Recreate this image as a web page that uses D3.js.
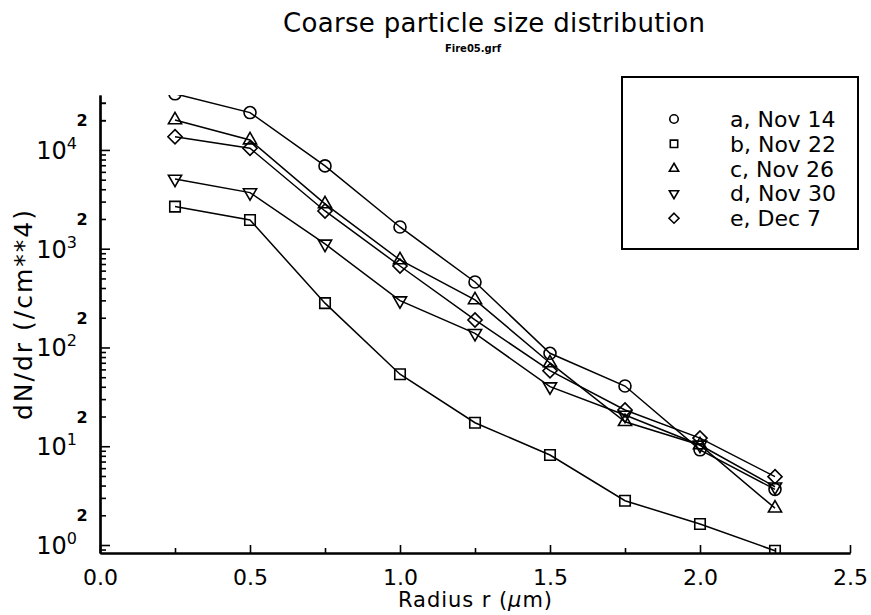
<!DOCTYPE html>
<html>
<head>
<meta charset="utf-8">
<script src="https://cdn.jsdelivr.net/npm/d3@7"></script>
<style>
  html, body { margin: 0; padding: 0; background: #fff; }
  svg { display: block; font-family: "DejaVu Sans", sans-serif; }
</style>
</head>
<body>
<svg id="chart" width="871" height="615"></svg>
<script>
// Particle radius (µm) at which each sample was measured
const radius = [0.25, 0.5, 0.75, 1.0, 1.25, 1.5, 1.75, 2.0, 2.25];

// dN/dr values (/cm**4) for each sampling date
const seriesA = [37000, 23900, 6890, 1660, 460, 87.3, 40.7, 9.2, 3.66];
const seriesB = [2670, 1955, 281, 53.6, 17.3, 8.15, 2.81, 1.63, 0.875];
const seriesC = [20100, 12600, 2840, 769, 303, 69.7, 17.7, 10.3, 2.36];
const seriesD = [5080, 3700, 1117, 298, 139, 40.1, 20.7, 10.3, 3.89];
const seriesE = [13600, 10400, 2410, 668, 190, 58.2, 23.3, 12.1, 4.92];

const seriesLabels = ["a, Nov 14", "b, Nov 22", "c, Nov 26", "d, Nov 30", "e, Dec 7"];
const markerKinds = ["circle", "square", "triangle", "invtriangle", "diamond"];

// Axis ticks
const xMajorTicks = [0, 0.5, 1.0, 1.5, 2.0, 2.5];
const xMinorTicks = [0.25, 0.75, 1.25, 1.75, 2.25];
const yDecades = [0, 1, 2, 3, 4];

const titleText = "Coarse particle size distribution";
const subtitleText = "Fire05.grf";
const xTitle = "Radius r (";
const yTitle = "dN/dr (/cm**4)";

const allSeries = [seriesA, seriesB, seriesC, seriesD, seriesE];

const svg = d3.select("#chart");
const plot = { left: 100, right: 850, top: 95, bottom: 553 };

const x = d3.scaleLinear().domain([0, 2.5]).range([plot.left, plot.right]);
const y = d3.scaleLog().domain([0.83, 36000]).range([plot.bottom, plot.top]);

// Marker generators
const diamondType = {
  draw(ctx, size) {
    const r = Math.sqrt(size) / Math.SQRT2;
    ctx.moveTo(0, -r); ctx.lineTo(r, 0); ctx.lineTo(0, r); ctx.lineTo(-r, 0); ctx.closePath();
  }
};
function markerPath(kind, scale) {
  const s = scale;
  switch (kind) {
    case "circle": return { d: d3.symbol(d3.symbolCircle, 113 * s)(), rot: 0 };
    case "square": return { d: d3.symbol(d3.symbolSquare, 110 * s)(), rot: 0 };
    case "triangle": return { d: d3.symbol(d3.symbolTriangle, 75 * s)(), rot: 0 };
    case "invtriangle": return { d: d3.symbol(d3.symbolTriangle, 75 * s)(), rot: 180 };
    case "diamond": return { d: d3.symbol(diamondType, 100 * s)(), rot: 0 };
  }
}

// Clip marks to the plotting area
svg.append("defs").append("clipPath").attr("id", "plotClip")
  .append("rect")
  .attr("x", plot.left).attr("y", plot.top)
  .attr("width", plot.right - plot.left + 10)
  .attr("height", plot.bottom - plot.top);

const marks = svg.append("g").attr("clip-path", "url(#plotClip)");
const line = d3.line().x((d, i) => x(radius[i])).y(d => y(d));

allSeries.forEach((vals, si) => {
  marks.append("path")
    .attr("d", line(vals))
    .attr("fill", "none")
    .attr("stroke", "#000")
    .attr("stroke-width", 1.5);
  const m = markerPath(markerKinds[si], 1);
  marks.selectAll(null).data(vals).join("path")
    .attr("d", m.d)
    .attr("transform", (d, i) => `translate(${x(radius[i])},${y(d)}) rotate(${m.rot})`)
    .attr("fill", "none")
    .attr("stroke", "#000")
    .attr("stroke-width", 1.6);
});

// Y axis: ticks pointing into the plot
const yMinor = [];
yDecades.forEach(p => { for (let k = 2; k <= 9; k++) yMinor.push(k * Math.pow(10, p)); });
yMinor.push(0.9, 2e4, 3e4);
const yMinorInRange = yMinor.filter(v => v >= 0.83 && v <= 36000);

const yAxisMinor = svg.append("g")
  .attr("transform", `translate(${plot.left},0)`)
  .call(d3.axisLeft(y).tickValues(yMinorInRange).tickSize(-6).tickSizeOuter(0).tickFormat(""));
const yAxisMajor = svg.append("g")
  .attr("transform", `translate(${plot.left},0)`)
  .call(d3.axisLeft(y).tickValues(yDecades.map(p => Math.pow(10, p))).tickSize(-10).tickSizeOuter(0).tickFormat(""));
[yAxisMinor, yAxisMajor].forEach(g => {
  g.selectAll("line").attr("stroke", "#000").attr("stroke-width", 1.6);
  g.select(".domain").attr("stroke", "#000").attr("stroke-width", 2.2);
});

// Y tick labels: powers of ten with superscripts, and "2" at the 2x ticks
const yLab = svg.append("g").attr("font-size", 24).attr("fill", "#000");
yDecades.forEach(p => {
  const t = yLab.append("text")
    .attr("x", 77).attr("y", y(Math.pow(10, p)) + 9)
    .attr("text-anchor", "end");
  t.append("tspan").text("10");
  t.append("tspan").attr("font-size", 16).attr("dy", -10).text(p);
});
yDecades.forEach(p => {
  const v = 2 * Math.pow(10, p);
  if (v > 36000) return;
  yLab.append("text")
    .attr("x", 82).attr("y", y(v) + 6)
    .attr("text-anchor", "middle")
    .attr("font-size", 16)
    .attr("font-weight", "bold")
    .text("2");
});

// X axis: ticks pointing up into the plot
const xAxisMinor = svg.append("g")
  .attr("transform", `translate(0,${plot.bottom})`)
  .call(d3.axisBottom(x).tickValues(xMinorTicks).tickSize(-5).tickSizeOuter(0).tickFormat(""));
const xAxisMajor = svg.append("g")
  .attr("transform", `translate(0,${plot.bottom})`)
  .call(d3.axisBottom(x).tickValues(xMajorTicks).tickSize(-8).tickSizeOuter(0)
    .tickPadding(16).tickFormat(d3.format(".1f")));
[xAxisMinor, xAxisMajor].forEach(g => {
  g.selectAll("line").attr("stroke", "#000").attr("stroke-width", 1.6);
  g.select(".domain").attr("stroke", "#000").attr("stroke-width", 2.2);
});
xAxisMajor.selectAll("text")
  .attr("font-size", 22)
  .attr("font-family", "DejaVu Sans, sans-serif")
  .attr("fill", "#000");

// Axis titles
const xt = svg.append("text")
  .attr("x", 475).attr("y", 607)
  .attr("text-anchor", "middle")
  .attr("font-size", 21)
  .attr("textLength", 154)
  .attr("lengthAdjust", "spacing")
  .attr("fill", "#000");
xt.append("tspan").text(xTitle);
xt.append("tspan").attr("font-style", "italic").text("\u03bc");
xt.append("tspan").text("m)");

svg.append("text")
  .attr("transform", "translate(32,315) rotate(-90)")
  .attr("text-anchor", "middle")
  .attr("font-size", 25)
  .attr("textLength", 210)
  .attr("lengthAdjust", "spacing")
  .attr("fill", "#000")
  .text(yTitle);

// Title and file name
svg.append("text")
  .attr("x", 494).attr("y", 32)
  .attr("text-anchor", "middle")
  .attr("font-size", 26)
  .attr("textLength", 422)
  .attr("lengthAdjust", "spacing")
  .attr("fill", "#000")
  .text(titleText);
svg.append("text")
  .attr("x", 473).attr("y", 52)
  .attr("text-anchor", "middle")
  .attr("font-size", 10)
  .attr("font-weight", "bold")
  .attr("fill", "#000")
  .text(subtitleText);

// Legend
const legend = svg.append("g");
legend.append("rect")
  .attr("x", 622).attr("y", 77)
  .attr("width", 236).attr("height", 172)
  .attr("fill", "#fff")
  .attr("stroke", "#000")
  .attr("stroke-width", 2);
seriesLabels.forEach((lab, i) => {
  const cy = 119 + i * 24.8;
  const m = markerPath(markerKinds[i], 0.5);
  legend.append("path")
    .attr("d", m.d)
    .attr("transform", `translate(674,${cy}) rotate(${m.rot})`)
    .attr("fill", "none")
    .attr("stroke", "#000")
    .attr("stroke-width", 1.6);
  legend.append("text")
    .attr("x", 730).attr("y", cy + 8)
    .attr("font-size", 22)
    .attr("fill", "#000")
    .text(lab);
});
</script>
</body>
</html>
